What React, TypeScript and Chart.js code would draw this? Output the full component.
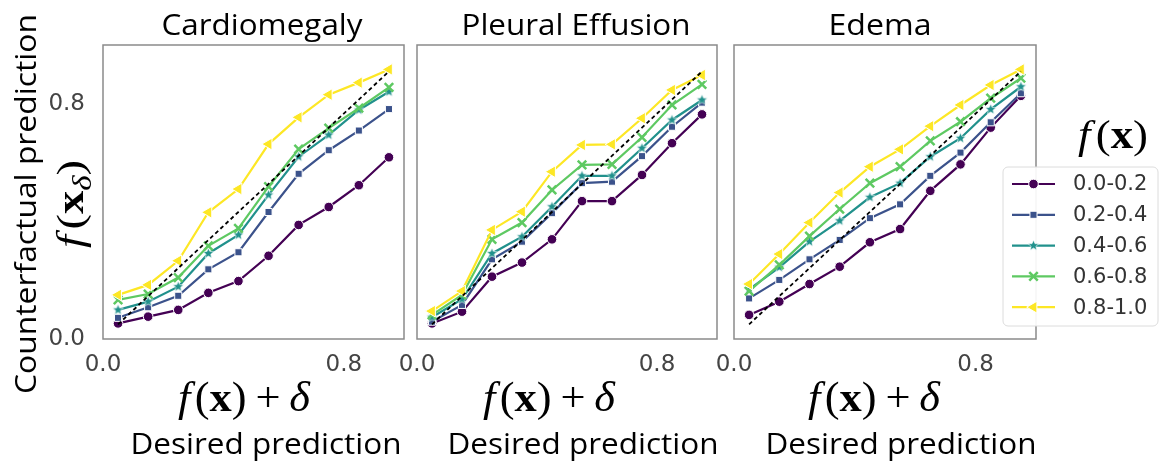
import React, { useEffect, useRef } from 'react';
import { Chart, registerables } from 'chart.js';
import { drawPoint } from 'chart.js/helpers';

Chart.register(...registerables);

// desired prediction bins (x) and the tick values shown
const desiredPrediction = [0.05, 0.15, 0.25, 0.35, 0.45, 0.55, 0.65, 0.75, 0.85, 0.95];
const xTickValues = [0, 0.8];
const yTickValues = [0, 0.8];
const identityX = [0.05, 0.95];
const identityY = [0.05, 0.91];

const binLabels = ['0.0-0.2', '0.2-0.4', '0.4-0.6', '0.6-0.8', '0.8-1.0'];
const binColors = ['#440154', '#3b528b', '#21918c', '#5ec962', '#fde725'];

// Cardiomegaly
const cardio02 = [0.053, 0.076, 0.099, 0.157, 0.197, 0.283, 0.388, 0.449, 0.523, 0.618];
const cardio24 = [0.072, 0.108, 0.147, 0.237, 0.295, 0.432, 0.562, 0.642, 0.709, 0.782];
const cardio46 = [0.099, 0.127, 0.178, 0.291, 0.354, 0.49, 0.62, 0.694, 0.779, 0.841];
const cardio68 = [0.133, 0.153, 0.209, 0.317, 0.376, 0.518, 0.646, 0.717, 0.785, 0.856];
const cardio810 = [0.15, 0.184, 0.266, 0.431, 0.51, 0.663, 0.754, 0.831, 0.872, 0.917];

// Pleural Effusion
const pleural02 = [0.053, 0.093, 0.212, 0.26, 0.339, 0.469, 0.469, 0.558, 0.666, 0.764];
const pleural24 = [0.059, 0.116, 0.271, 0.331, 0.428, 0.53, 0.535, 0.622, 0.722, 0.804];
const pleural46 = [0.074, 0.135, 0.291, 0.348, 0.45, 0.555, 0.555, 0.649, 0.745, 0.813];
const pleural68 = [0.082, 0.15, 0.339, 0.396, 0.507, 0.592, 0.594, 0.686, 0.796, 0.866];
const pleural810 = [0.095, 0.163, 0.371, 0.433, 0.569, 0.66, 0.662, 0.751, 0.847, 0.898];

// Edema
const edema02 = [0.082, 0.127, 0.187, 0.246, 0.329, 0.374, 0.504, 0.594, 0.719, 0.827];
const edema24 = [0.138, 0.201, 0.271, 0.337, 0.411, 0.458, 0.555, 0.634, 0.737, 0.836];
const edema46 = [0.169, 0.244, 0.331, 0.402, 0.482, 0.53, 0.62, 0.683, 0.781, 0.858];
const edema68 = [0.163, 0.252, 0.35, 0.442, 0.53, 0.586, 0.674, 0.739, 0.819, 0.887];
const edema810 = [0.187, 0.289, 0.396, 0.498, 0.586, 0.645, 0.724, 0.796, 0.864, 0.917];

const W = 1163;
const H = 464;
const AREA_TOP = 45;
const AREA_BOTTOM = 339;
const Y_AXIS_W = 90;

const SANS = '"Open Sans", sans-serif';
const SERIF = '"Liberation Serif", serif';
const TICK_FONT = { family: '"DejaVu Sans"', size: 23 };
const TICK_COLOR = '#444';

const panels = [
  { title: 'Cardiomegaly', series: [cardio02, cardio24, cardio46, cardio68, cardio810], left: 103, right: 404, titleX: 262, titleW: 201, mathX: 244, labelX: 266, showY: true, legend: false },
  { title: 'Pleural Effusion', series: [pleural02, pleural24, pleural46, pleural68, pleural810], left: 417, right: 717, titleX: 576, titleW: 229, mathX: 549, labelX: 583, showY: false, legend: false },
  { title: 'Edema', series: [edema02, edema24, edema46, edema68, edema810], left: 734, right: 1036, titleX: 880, titleW: 103, mathX: 874, labelX: 901, showY: false, legend: true },
];

type Seg = { text: string; font: string; dy?: number; gap?: number };

const sansSeg = (text: string, size = 29): Seg[] => [{ text, font: `${size}px ${SANS}` }];

// f(x) + delta
const fxDelta = (s: number): Seg[] => [
  { text: 'f', font: `italic ${s}px ${SERIF}`, gap: 0.1 * s },
  { text: '(', font: `${s}px ${SERIF}` },
  { text: 'x', font: `bold ${s}px ${SERIF}` },
  { text: ')', font: `${s}px ${SERIF}`, gap: 0.2 * s },
  { text: '+', font: `${s}px ${SERIF}`, gap: 0.2 * s },
  { text: 'δ', font: `italic ${s}px ${SERIF}` },
];

// f(x_delta)
const fxSub = (s: number): Seg[] => [
  { text: 'f', font: `italic ${s}px ${SERIF}`, gap: 0.12 * s },
  { text: '(', font: `${s}px ${SERIF}` },
  { text: 'x', font: `bold ${s}px ${SERIF}` },
  { text: 'δ', font: `italic ${Math.round(s * 0.7)}px ${SERIF}`, dy: 0.22 * s },
  { text: ')', font: `${s}px ${SERIF}` },
];

// f(x)
const fx = (s: number): Seg[] => [
  { text: 'f', font: `italic ${s}px ${SERIF}`, gap: 0.12 * s },
  { text: '(', font: `${s}px ${SERIF}` },
  { text: 'x', font: `bold ${s}px ${SERIF}` },
  { text: ')', font: `${s}px ${SERIF}` },
];

function drawText(ctx: CanvasRenderingContext2D, segs: Seg[], x: number, y: number, opts: { width?: number; angle?: number; color?: string } = {}) {
  ctx.save();
  ctx.translate(x, y);
  if (opts.angle) ctx.rotate(opts.angle);
  ctx.textAlign = 'left';
  ctx.textBaseline = 'alphabetic';
  ctx.fillStyle = opts.color || '#000';
  const widths = segs.map((s) => {
    ctx.font = s.font;
    return ctx.measureText(s.text).width + (s.gap || 0);
  });
  const total = widths.reduce((a, b) => a + b, 0);
  if (opts.width) ctx.scale(opts.width / total, 1);
  let cx = -total / 2;
  segs.forEach((s, i) => {
    ctx.font = s.font;
    ctx.fillText(s.text, cx, s.dy || 0);
    cx += widths[i];
  });
  ctx.restore();
}

function makeStar(color: string, r: number) {
  const c = document.createElement('canvas');
  const size = Math.ceil(r * 2 + 2);
  c.width = size;
  c.height = size;
  const g = c.getContext('2d')!;
  g.translate(size / 2, size / 2);
  g.beginPath();
  for (let k = 0; k < 10; k++) {
    const rr = k % 2 ? r * 0.45 : r;
    const a = -Math.PI / 2 + (k * Math.PI) / 5;
    g.lineTo(rr * Math.cos(a), rr * Math.sin(a));
  }
  g.closePath();
  g.fillStyle = color;
  g.fill();
  g.strokeStyle = '#fff';
  g.lineWidth = 0.6;
  g.stroke();
  return c;
}

let starImage: HTMLCanvasElement | null = null;
const markerStyles = () => {
  if (!starImage) starImage = makeStar(binColors[2], 5.5);
  return ['circle', 'rect', starImage, 'crossRot', 'triangle'] as any[];
};
const markerRadius = [4.8, 5, 5, 6, 6.8];
const markerRotation = [0, 0, 0, 0, -90];
const markerBorderWidth = [1, 1, 0, 2.5, 1];
const markerBorderColor = (i: number) => (i === 3 ? binColors[i] : '#ffffff');

function roundRect(ctx: CanvasRenderingContext2D, x: number, y: number, w: number, h: number, r: number) {
  ctx.beginPath();
  ctx.moveTo(x + r, y);
  ctx.arcTo(x + w, y, x + w, y + h, r);
  ctx.arcTo(x + w, y + h, x, y + h, r);
  ctx.arcTo(x, y + h, x, y, r);
  ctx.arcTo(x, y, x + w, y, r);
  ctx.closePath();
}

function drawLegend(ctx: CanvasRenderingContext2D) {
  const box = { x: 1003, y: 167, w: 155, h: 159 };
  const styles = markerStyles();
  ctx.save();
  roundRect(ctx, box.x, box.y, box.w, box.h, 5);
  ctx.fillStyle = 'rgba(255,255,255,0.92)';
  ctx.fill();
  ctx.strokeStyle = '#dcdcdc';
  ctx.lineWidth = 1;
  ctx.stroke();
  binLabels.forEach((label, i) => {
    const y = box.y + 17 + i * 30.8;
    ctx.strokeStyle = binColors[i];
    ctx.lineWidth = 2.2;
    ctx.beginPath();
    ctx.moveTo(box.x + 9, y);
    ctx.lineTo(box.x + 52, y);
    ctx.stroke();
    ctx.fillStyle = binColors[i];
    ctx.strokeStyle = markerBorderColor(i);
    ctx.lineWidth = markerBorderWidth[i];
    drawPoint(ctx, { pointStyle: styles[i], rotation: markerRotation[i], radius: markerRadius[i], borderWidth: markerBorderWidth[i] } as any, box.x + 30.5, y);
    ctx.fillStyle = '#333';
    ctx.font = '21px "DejaVu Sans"';
    ctx.textBaseline = 'middle';
    ctx.textAlign = 'left';
    ctx.fillText(label, box.x + 70, y + 1);
  });
  ctx.restore();
}

const PanelChart = ({ index }: { index: number }) => {
  const canvasRef = useRef<HTMLCanvasElement | null>(null);

  useEffect(() => {
    if (!canvasRef.current) return;
    const panel = panels[index];
    const styles = markerStyles();
    const yWidth = panel.showY ? Y_AXIS_W : 0;

    const datasets: any[] = panel.series.map((values, i) => ({
      label: binLabels[i],
      data: desiredPrediction.map((x, j) => ({ x, y: values[j] })),
      borderColor: binColors[i],
      backgroundColor: binColors[i],
      borderWidth: 2.2,
      pointStyle: styles[i],
      pointRadius: markerRadius[i],
      pointRotation: markerRotation[i],
      pointBackgroundColor: binColors[i],
      pointBorderColor: markerBorderColor(i),
      pointBorderWidth: markerBorderWidth[i],
      order: 5 - i,
    }));
    datasets.push({
      label: 'ideal',
      data: identityX.map((x, j) => ({ x, y: identityY[j] })),
      borderColor: '#000',
      borderWidth: 1.8,
      borderDash: [4, 3],
      pointRadius: 0,
      order: 0,
    });

    const panelDecor = {
      id: 'panelDecor',
      beforeDatasetsDraw(chart: Chart) {
        const { ctx, chartArea: a } = chart;
        ctx.save();
        ctx.strokeStyle = '#8a8a8a';
        ctx.lineWidth = 1.5;
        ctx.strokeRect(a.left, a.top, a.right - a.left, a.bottom - a.top);
        ctx.restore();
      },
      afterDraw(chart: Chart) {
        const { ctx } = chart;
        drawText(ctx, sansSeg(panel.title), panel.titleX, 35, { width: panel.titleW });
        drawText(ctx, fxDelta(42), panel.mathX, 411, { width: 132 });
        drawText(ctx, sansSeg('Desired prediction'), panel.labelX, 454, { width: 271 });
        if (panel.showY) {
          drawText(ctx, sansSeg('Counterfactual prediction'), 36, 204, { angle: -Math.PI / 2, width: 380 });
          drawText(ctx, fxSub(38), 83, 204, { angle: -Math.PI / 2, width: 88 });
        }
        if (panel.legend) {
          drawLegend(ctx);
          drawText(ctx, fx(40), 1113, 148, { width: 70 });
        }
      },
    };

    const chart = new Chart(canvasRef.current, {
      type: 'line',
      data: { datasets },
      options: {
        animation: false,
        responsive: false,
        events: [],
        layout: {
          padding: {
            left: panel.left - yWidth,
            right: W - panel.right,
            top: AREA_TOP,
            bottom: 0,
          },
        },
        plugins: {
          legend: { display: false },
          tooltip: { enabled: false },
        },
        scales: {
          x: {
            type: 'linear',
            min: 0,
            max: 1,
            grid: { display: false },
            border: { display: false },
            ticks: {
              font: TICK_FONT,
              color: TICK_COLOR,
              padding: 4,
              maxRotation: 0,
              callback: (v: any) => Number(v).toFixed(1),
            },
            afterBuildTicks: (s: any) => {
              s.ticks = xTickValues.map((value) => ({ value }));
            },
            afterFit: (s: any) => {
              s.height = H - AREA_BOTTOM;
              s.paddingLeft = 0;
              s.paddingRight = 0;
            },
          },
          y: {
            type: 'linear',
            display: panel.showY,
            min: 0,
            max: 1,
            grid: { display: false },
            border: { display: false },
            ticks: {
              font: TICK_FONT,
              color: TICK_COLOR,
              padding: 10,
              callback: (v: any) => Number(v).toFixed(1),
            },
            afterBuildTicks: (s: any) => {
              s.ticks = yTickValues.map((value) => ({ value }));
            },
            afterFit: (s: any) => {
              s.width = yWidth;
              s.paddingTop = 0;
              s.paddingBottom = 0;
            },
          },
        },
      },
      plugins: [panelDecor],
    });

    return () => {
      chart.destroy();
    };
  }, [index]);

  return <canvas ref={canvasRef} width={W} height={H} style={{ position: 'absolute', left: 0, top: 0 }} />;
};

const App = () => (
  <div style={{ position: 'absolute', left: 0, top: 0, width: W, height: H, background: '#fff', overflow: 'hidden' }}>
    {panels.map((p, i) => (
      <PanelChart key={p.title} index={i} />
    ))}
  </div>
);

export default App;
